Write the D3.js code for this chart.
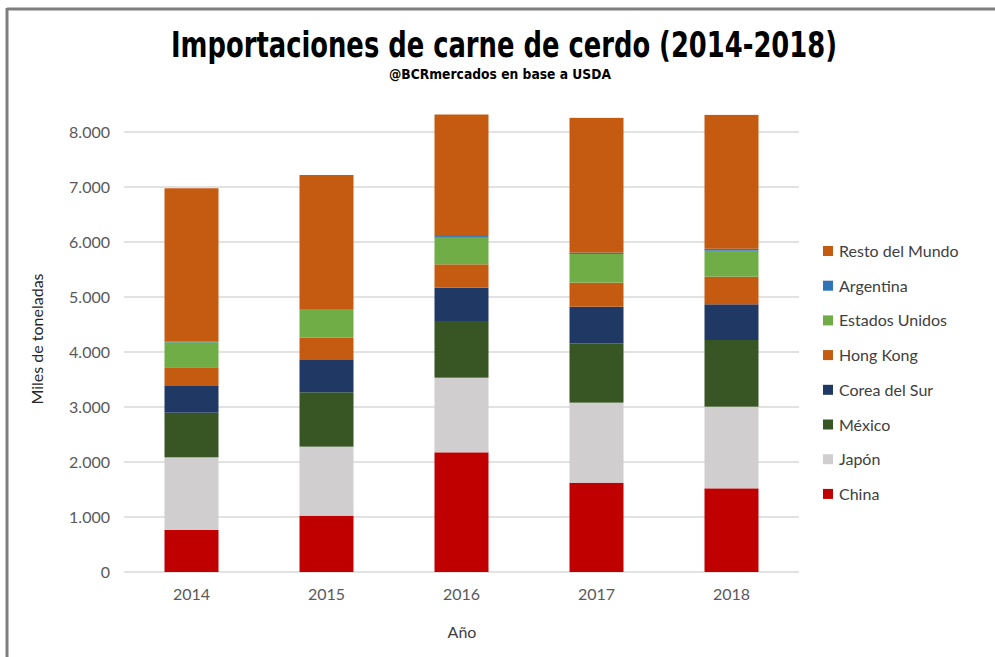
<!DOCTYPE html>
<html>
<head>
<meta charset="utf-8">
<script src="https://cdn.jsdelivr.net/npm/d3@7"></script>
<style>
  body { margin: 0; background: #fff; }
  svg { display: block; }
</style>
</head>
<body>
<svg width="995" height="657"></svg>
<script>
const years = ['2014', '2015', '2016', '2017', '2018'];
const seriesNames = ['China', 'Japón', 'México', 'Corea del Sur', 'Hong Kong',
  'Estados Unidos', 'Argentina', 'Resto del Mundo'];
const china = [764, 1024, 2176, 1624, 1521];
const japon = [1321, 1255, 1357, 1455, 1485];
const mexico = [812, 988, 1031, 1079, 1212];
const corea = [485, 600, 606, 666, 649];
const hongKong = [340, 393, 424, 437, 503];
const estadosUnidos = [455, 504, 484, 521, 472];
const argentina = [11, 12, 30, 25, 35];
const resto = [2789, 2442, 2210, 2450, 2434];
const yTicks = [0, 1000, 2000, 3000, 4000, 5000, 6000, 7000, 8000];
const colors = ['#c00000', '#d0cece', '#375623', '#1f3864', '#c55a11',
  '#70ad47', '#2e75b6', '#c55a11'];

const seriesValues = [china, japon, mexico, corea, hongKong, estadosUnidos, argentina, resto];
const rows = years.map((y, i) => {
  const r = {year: y};
  seriesNames.forEach((s, j) => r[s] = seriesValues[j][i]);
  return r;
});

const svg = d3.select('svg');
const textFont = 'Lato, "Open Sans", sans-serif';
const titleFont = '"Liberation Sans Narrow", "DejaVu Sans Condensed", sans-serif';

// frame
svg.append('line').attr('x1', 7).attr('x2', 995).attr('y1', 9).attr('y2', 9)
    .attr('stroke', '#7f7f7f').attr('stroke-width', 3);
svg.append('line').attr('x1', 7).attr('x2', 7).attr('y1', 8).attr('y2', 657)
    .attr('stroke', '#7f7f7f').attr('stroke-width', 3);

const x = d3.scaleBand().domain(years).range([124, 799]).paddingInner(0.6).paddingOuter(0.3);
const y = d3.scaleLinear().domain([0, 8000]).range([572, 132]);

// gridlines
svg.append('g')
    .selectAll('line')
    .data(yTicks)
    .enter()
    .append('line')
    .attr('x1', 124).attr('x2', 799)
    .attr('y1', d => y(d)).attr('y2', d => y(d))
    .attr('stroke', '#d9d9d9')
    .attr('stroke-width', 1.5);

// y tick labels
const fmt = d3.formatLocale({decimal: ',', thousands: '.', grouping: [3], currency: ['', '']}).format(',');
const yAxis = svg.append('g')
    .attr('transform', 'translate(110,0)')
    .call(d3.axisLeft(y).tickValues(yTicks).tickFormat(fmt).tickSize(0).tickPadding(0));
yAxis.select('.domain').remove();
yAxis.selectAll('text')
    .attr('font-family', textFont)
    .attr('font-size', 16)
    .attr('fill', '#595959');

// x tick labels
const xAxis = svg.append('g')
    .attr('transform', 'translate(0,580)')
    .call(d3.axisBottom(x).tickSize(0).tickPadding(9));
xAxis.select('.domain').remove();
xAxis.selectAll('text')
    .attr('font-family', textFont)
    .attr('font-size', 16)
    .attr('fill', '#595959');

// stacked bars
const stack = d3.stack().keys(seriesNames);
const layers = stack(rows);
svg.append('g')
    .selectAll('g')
    .data(layers)
    .enter()
    .append('g')
    .attr('fill', (d, i) => colors[i])
    .selectAll('rect')
    .data(d => d)
    .enter()
    .append('rect')
    .attr('x', d => x(d.data.year))
    .attr('width', x.bandwidth())
    .attr('y', d => y(d[1]))
    .attr('height', d => y(d[0]) - y(d[1]));

// titles
svg.append('text')
    .attr('x', 504).attr('y', 57)
    .attr('text-anchor', 'middle')
    .attr('font-family', titleFont)
    .attr('font-weight', 'bold')
    .attr('font-size', 35)
    .attr('textLength', 666)
    .attr('lengthAdjust', 'spacingAndGlyphs')
    .attr('fill', '#000')
    .text('Importaciones de carne de cerdo (2014-2018)');
svg.append('text')
    .attr('x', 500).attr('y', 79)
    .attr('text-anchor', 'middle')
    .attr('font-family', titleFont)
    .attr('font-weight', 'bold')
    .attr('font-size', 14)
    .attr('textLength', 222)
    .attr('lengthAdjust', 'spacingAndGlyphs')
    .attr('fill', '#000')
    .text('@BCRmercados en base a USDA');

// axis titles
svg.append('text')
    .attr('transform', 'translate(43,339) rotate(-90)')
    .attr('text-anchor', 'middle')
    .attr('font-family', textFont)
    .attr('font-size', 16)
    .attr('fill', '#262626')
    .text('Miles de toneladas');
svg.append('text')
    .attr('x', 462).attr('y', 638)
    .attr('text-anchor', 'middle')
    .attr('font-family', textFont)
    .attr('font-size', 16)
    .attr('fill', '#404040')
    .text('Año');

// legend (reverse order, top = Resto del Mundo)
const legendItems = seriesNames.map((s, i) => ({name: s, color: colors[i]})).reverse();
const legend = svg.append('g')
    .selectAll('g')
    .data(legendItems)
    .enter()
    .append('g')
    .attr('transform', (d, i) => `translate(823,${251 + i * 34.7})`);
legend.append('rect')
    .attr('x', 0).attr('y', -5)
    .attr('width', 10).attr('height', 10)
    .attr('fill', d => d.color);
legend.append('text')
    .attr('x', 16).attr('y', 6)
    .attr('font-family', textFont)
    .attr('font-size', 16)
    .attr('fill', '#404040')
    .text(d => d.name);
</script>
</body>
</html>
